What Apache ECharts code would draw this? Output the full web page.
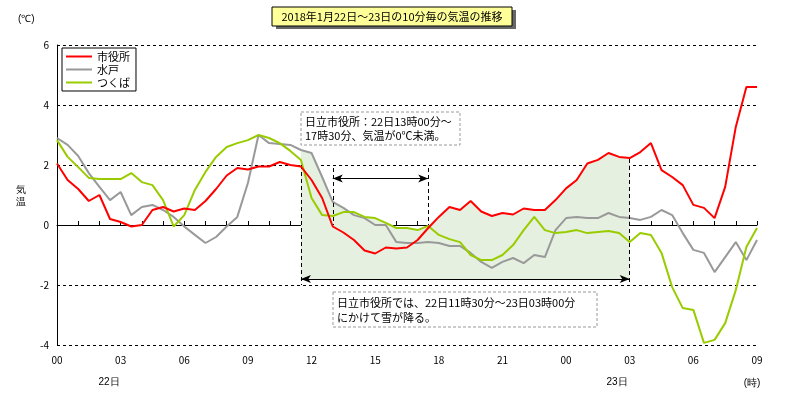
<!DOCTYPE html>
<html lang="ja">
<head>
<meta charset="UTF-8">
<title>気温の推移</title>
<script src="https://cdn.jsdelivr.net/npm/echarts@6/dist/echarts.min.js"></script>
</head>
<body style="margin:0">
<div id="main" style="width:800px;height:401px;"></div>
<script>
// 30分毎に読み取った値 (時刻は22日00時からの経過時間)
var hours = [];
for (var i = 0; i <= 66; i++) hours.push(i / 2);
var shiyakusho = [2.05,1.5,1.2,0.8,1.0,0.2,0.1,-0.05,0,0.5,0.6,0.45,0.55,0.5,0.8,1.2,1.65,1.9,1.85,1.95,1.95,2.1,2.0,1.95,
  1.5,0.9,-0.05,-0.25,-0.5,-0.85,-0.95,-0.75,-0.78,-0.75,-0.5,-0.1,0.27,0.6,0.5,0.8,0.45,0.3,0.4,0.35,0.55,0.5,
  0.5,0.83,1.22,1.5,2.05,2.17,2.4,2.27,2.23,2.43,2.73,1.83,1.6,1.33,0.67,0.57,0.23,1.27,3.27,4.6,4.6];
var mito = [2.9,2.67,2.3,1.73,1.27,0.83,1.1,0.33,0.6,0.67,0.5,0.27,-0.05,-0.33,-0.6,-0.4,-0.05,0.27,1.4,3.0,2.73,2.7,2.67,2.5,
  2.4,1.6,0.77,0.57,0.33,0.23,0,0,-0.57,-0.6,-0.6,-0.57,-0.6,-0.7,-0.7,-0.93,-1.23,-1.43,-1.23,-1.1,-1.27,-1.0,
  -1.07,-0.17,0.23,0.27,0.23,0.23,0.4,0.27,0.23,0.17,0.27,0.5,0.33,-0.27,-0.83,-0.93,-1.57,-1.07,-0.57,-1.17,-0.5];
var tsukuba = [2.83,2.27,1.93,1.57,1.53,1.53,1.53,1.73,1.43,1.33,0.83,-0.05,0.33,1.17,1.77,2.27,2.6,2.73,2.83,3.0,2.9,2.73,2.47,2.17,
  0.9,0.33,0.3,0.43,0.43,0.27,0.23,0.07,-0.1,-0.1,-0.17,-0.03,-0.33,-0.47,-0.57,-1.0,-1.17,-1.17,-1.0,-0.67,-0.17,0.27,
  -0.17,-0.27,-0.23,-0.17,-0.27,-0.23,-0.2,-0.27,-0.57,-0.27,-0.33,-0.93,-2.07,-2.77,-2.83,-3.93,-3.83,-3.27,-2.17,-0.73,-0.1];
var snowFrom = 11.5, snowTo = 27, snowBase = -1.8;

function pts(arr) { return arr.map(function (v, i) { return [hours[i], v]; }); }

// 降雪期間の塗りつぶし
var fillTop = [];
hours.forEach(function (h, i) {
  if (h >= snowFrom && h <= snowTo) {
    fillTop.push([h, Math.max(shiyakusho[i], mito[i], tsukuba[i])]);
  }
});

var dash = { color: '#000', type: [4, 3], width: 1 };
var chart = echarts.init(document.getElementById('main'));
chart.setOption({
  animation: false,
  textStyle: { fontFamily: 'Noto Sans CJK JP' },
  grid: { left: 57, right: 43, top: 45, bottom: 56 },
  xAxis: {
    type: 'value', min: 0, max: 33, interval: 1,
    axisLine: { lineStyle: { color: '#000' } },
    axisTick: { inside: true, length: 4, lineStyle: { color: '#000' } },
    axisLabel: {
      fontSize: 10, color: '#000', margin: 10,
      formatter: function (v) { return v % 3 === 0 ? ('0' + (v % 24)).slice(-2) : ''; }
    },
    splitLine: { show: false }
  },
  yAxis: {
    type: 'value', min: -4, max: 6, interval: 2,
    axisLine: { show: true, lineStyle: { color: '#000' } },
    axisTick: { show: false },
    axisLabel: { fontSize: 10, color: '#000' },
    splitLine: { lineStyle: { color: '#000', type: [3, 3] } }
  },
  legend: {
    left: 62, top: 48, orient: 'vertical', itemGap: 2, itemWidth: 26, itemHeight: 2,
    data: ['市役所', '水戸', 'つくば'], icon: 'rect',
    backgroundColor: '#fff', borderColor: '#000', borderWidth: 1, padding: [3, 6, 3, 4],
    textStyle: { fontSize: 11, color: '#000' }
  },
  series: [
    { type: 'line', data: fillTop, symbol: 'none', lineStyle: { width: 0 }, silent: true, z: 1,
      areaStyle: { color: '#e6f0e0', opacity: 1, origin: snowBase } },
    { name: '市役所', type: 'line', data: pts(shiyakusho), symbol: 'none', z: 5,
      lineStyle: { color: '#ff0000', width: 2 }, itemStyle: { color: '#ff0000' },
      markLine: {
        silent: true, symbol: ['none', 'none'], label: { show: false }, lineStyle: dash,
        data: [
          [{ coord: [13, 1.9] }, { coord: [13, 0] }],
          [{ coord: [17.5, 1.9] }, { coord: [17.5, 0] }],
          [{ coord: [snowFrom, 2] }, { coord: [snowFrom, -2] }],
          [{ coord: [snowTo, 2.2] }, { coord: [snowTo, -2] }],
          [{ coord: [13, 1.55], symbol: 'arrow' }, { coord: [17.5, 1.55], symbol: 'arrow' }],
          [{ coord: [snowFrom, snowBase], symbol: 'arrow' }, { coord: [snowTo, snowBase], symbol: 'arrow' }]
        ].map(function (d) {
          return [{ coord: d[0].coord, symbol: d[0].symbol || 'none', symbolSize: [6, 10],
            lineStyle: d[0].symbol ? { type: 'solid', color: '#000', width: 1 } : dash }, { coord: d[1].coord, symbol: d[1].symbol || 'none', symbolSize: [6, 10] }];
        })
      } },
    { name: '水戸', type: 'line', data: pts(mito), symbol: 'none', z: 4,
      lineStyle: { color: '#999999', width: 2 }, itemStyle: { color: '#999999' } },
    { name: 'つくば', type: 'line', data: pts(tsukuba), symbol: 'none', z: 4,
      lineStyle: { color: '#99cc00', width: 2 }, itemStyle: { color: '#99cc00' } }
  ],
  graphic: [
    { type: 'rect', shape: { x: 276, y: 10, width: 240, height: 19 }, style: { fill: '#666' } },
    { type: 'rect', shape: { x: 272, y: 7, width: 240, height: 19 }, style: { fill: '#ffff99', stroke: '#000', lineWidth: 1 } },
    { type: 'text', x: 392, y: 16.5, style: { text: '2018年1月22日～23日の10分毎の気温の推移', fontSize: 11, fill: '#000', align: 'center', verticalAlign: 'middle', fontFamily: 'Noto Sans CJK JP' } },
    { type: 'text', x: 18, y: 14, style: { text: '(℃)', fontSize: 10, fill: '#000' } },
    { type: 'text', x: 16, y: 184, style: { text: '気\n温', fontSize: 10, fill: '#000', lineHeight: 12 } },
    { type: 'text', x: 109, y: 377, style: { text: '22日', fontSize: 10, fill: '#000', align: 'center' } },
    { type: 'text', x: 617, y: 377, style: { text: '23日', fontSize: 10, fill: '#000', align: 'center' } },
    { type: 'text', x: 752, y: 378, style: { text: '(時)', fontSize: 10, fill: '#000', align: 'center' } },
    { type: 'rect', z: 10, shape: { x: 301, y: 112, width: 159, height: 33 }, style: { fill: '#fff', stroke: '#999', lineDash: [3, 2], lineWidth: 1 } },
    { type: 'text', z: 11, x: 305, y: 115, style: { text: '日立市役所：22日13時00分～\n17時30分、気温が0℃未満。', fontSize: 11, lineHeight: 14, fill: '#000', fontFamily: 'Noto Sans CJK JP' } },
    { type: 'rect', z: 10, shape: { x: 333, y: 292, width: 264, height: 35 }, style: { fill: '#fff', stroke: '#999', lineDash: [3, 2], lineWidth: 1 } },
    { type: 'text', z: 11, x: 337, y: 295, style: { text: '日立市役所では、22日11時30分～23日03時00分\nにかけて雪が降る。', fontSize: 11, lineHeight: 15, fill: '#000', fontFamily: 'Noto Sans CJK JP' } }
  ]
});
</script>
</body>
</html>
